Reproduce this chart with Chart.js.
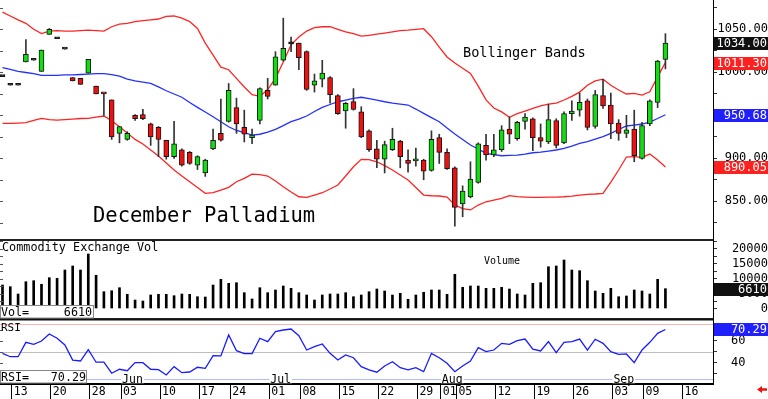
<!DOCTYPE html>
<html>
<head>
<meta charset="utf-8">
<script src="https://cdn.jsdelivr.net/npm/chart.js@4.4.1/dist/chart.umd.min.js"></script>
<style>
    html, body { margin: 0; padding: 0; background: #fff; overflow: hidden; }
    #wrap { position: relative; width: 768px; height: 399px; }
    canvas { position: absolute; left: 0; }
</style>
</head>
<body>
<div id="wrap">
    <canvas id="priceChart" width="768" height="239" style="top:0;width:768px;height:239px"></canvas>
    <canvas id="volChart" width="768" height="80" style="top:239px;width:768px;height:80px"></canvas>
    <canvas id="rsiChart" width="768" height="80" style="top:319px;width:768px;height:80px"></canvas>
</div>
<script>
// ===== data (one entry per trading day, 10 May .. 12 Sep) =====
const opens  = [995,985,985,1012,1014,1001,1044,1039,1027,994,993,999,984,976,968,929,922,950,951,940,936,921,902,910,907,892,883,911,929,943,959,936,924,944,979,985,1014,1033,1034,1024,985,992,994,973,955,966,954,932,911,899,910,920,898,897,898,886,924,907,889,847,855,872,915,904,910,934,923,943,946,924,919,944,918,952,956,967,937,973,962,941,929,934,900,940,965,1015];
const highs  = [995,985,985,1038,1014,1026,1051,1039,1027,994,993,1015,984,976,968,937,931,951,957,941,937,921,943,911,908,903,899,934,969,987,970,956,934,982,993,1024,1063,1041,1034,1025,998,1014,995,974,965,981,960,933,921,920,935,921,910,912,899,932,928,911,890,868,896,918,928,928,938,948,943,952,947,940,963,946,954,967,976,969,979,992,976,945,950,956,942,968,1014,1045];
const lows   = [995,985,985,1012,1014,1001,1044,1039,1027,990,986,999,975,950,922,918,921,944,945,915,902,899,900,891,893,887,879,910,920,942,929,919,917,940,969,985,1013,1024,1003,979,977,983,964,951,935,956,924,908,889,883,909,889,884,891,875,885,894,887,821,832,854,871,898,902,908,917,921,934,909,913,917,912,917,944,949,933,935,958,923,921,924,896,899,938,959,1004];
const closes = [995,985,985,1021,1014,1026,1050,1039,1027,990,986,1015,975,975,925,937,929,946,946,925,922,902,917,892,894,902,898,921,921,979,940,928,927,981,972,1018,1028,1033,1017,980,990,999,974,952,964,957,925,910,899,916,922,902,894,898,885,922,907,888,843,862,876,917,904,910,933,928,942,948,924,920,945,915,952,955,965,936,974,961,940,929,933,903,938,967,1013,1034];

const upperBand = [1070,1065.5,1061,1057,1050,1045,1048,1048.5,1048,1048,1048.5,1049,1048.5,1048,1053,1056,1057,1059,1060,1061,1062,1065,1065.5,1063,1059,1051,1034,1020,1006,1003,993,983,974,972,980,993,1012,1032,1041,1048,1052,1053,1053,1050,1047,1045,1042,1043,1044.5,1045.7,1047,1048.4,1049,1050,1050.7,1041.4,1029.4,1017.8,1010.8,1004.7,998.8,984,968,958.5,954,947.7,952,955,958,961,963,964.3,967.8,972,977,985,990,992,985,979.4,974.8,975.6,973.6,977.4,995,1011.3];
const midBand   = [1005.6,1003.3,1001,999.8,998.6,996.5,996.5,996.5,997,997,997.5,998,998.6,998.6,997.4,995.7,992.2,990,988.7,987.2,983,978.6,974.8,971,965,959.3,953.8,948.4,942.6,936.7,932.4,929.8,927,928,930.6,933.7,938,942.6,945.7,949.2,954.4,959.3,962.6,965.8,967.8,969.8,971,969.5,967.8,965.8,964.3,963.1,962,957.3,952.3,947.4,942.6,935.2,928.3,921.9,915.5,910.8,905.8,904.4,903,903.5,903.8,905,906.5,907.3,908.5,909.7,911.6,914.3,917.4,919.5,922.4,925.3,929,933.5,937.6,938.7,939.9,942.2,946.3,950.68];
const lowerBand = [940.7,940.7,941,941.4,944,946.5,945,944.5,945,945.7,946.3,946.5,948,949.2,943.7,936.7,929.4,922,916.6,909.7,902.7,894.5,886.4,879.4,872.8,866,859.3,860,863,866.3,872.8,876.7,881.7,881,879.4,873.6,867,860.8,855.3,854.7,857.3,860,864.3,869,879.4,890.2,898.8,898.5,896,891.5,886.4,880.6,874.8,866,857.3,856.5,856.2,855,845.7,841.6,840,845.7,849.5,851.5,853.5,856.7,855.5,855,854.7,854.7,855,855,855.3,856,857.3,858,858.5,859.3,872.4,886.4,901.5,901.9,901.2,905,898,890.05];

const volumes = [7830,7270,4830,8930,9270,8070,10270,10070,12830,14170,12830,18170,11070,5600,5930,6930,4730,2830,2500,4500,4730,4730,4270,4830,4730,3930,3830,7830,9730,8400,8600,5270,3170,6930,5270,6170,7500,6730,5270,4500,2830,4500,4830,4830,5270,3930,4500,5600,6500,5830,4500,5070,3070,4500,5400,6170,6170,4730,11400,7070,7500,7500,6730,6730,7070,6500,4830,4500,8400,8600,13930,14170,16170,12830,12600,9270,5830,5070,6730,3930,4170,6170,5830,4830,9730,6610];

const rsi = [48.6,45.5,45.5,58.6,56.8,59.8,66.2,62.3,56.2,42.5,41.6,51.9,40.5,40.5,30.5,34.1,32.8,40.1,40.1,34.1,33.7,28.9,36.5,31,31.6,35.9,35,46.5,46.2,65.3,51,48.3,48.3,62.3,59.2,68.3,69.8,70.7,64.6,51.6,54.6,57.1,48.6,42.5,47.1,44.6,36.5,33.5,31.4,37.1,41,35.5,33.5,35.5,31.9,48.6,44.6,39.5,31.9,37.1,41.6,53.7,50.1,51.6,57.7,56.8,60.1,61.6,52.3,50.7,59.2,49.2,58.6,59.2,61.6,51.6,61.4,57.7,50.1,47.7,48,40.1,51.6,58.6,66.8,70.29];

// x axis: day index of each labelled tick
const tickIdx    = [1,6,11,15,20,25,29,34,38,43,48,53,56,58,63,68,73,78,82,87];
const tickLabels = ['13','20','28','03','10','17','24','01','08','15','22','29','01','05','12','19','26','03','09','16'];
const monthIdx    = [15,34,56,78];
const monthLabels = ['Jun','Jul','Aug','Sep'];

const priceTicks = [825,850,875,900,925,950,975,1000,1025,1050,1075];
const volTicks   = [0,2500,5000,7500,10000,12500,15000,17500,20000,22500];
const rsiTicks   = [30,40,50,60,70];
const rsiLevels  = [75,50,25];

// ===== helpers =====
const MONO = '"DejaVu Sans Mono", monospace';
const X_MIN = -0.32, X_MAX = 91.1;
const last = closes.length - 1;

function xAxisHidden() {
    return { type: 'linear', min: X_MIN, max: X_MAX, offset: false, display: false };
}

function rightAxis(ticks, labelFn, opts) {
    return {
        position: 'right',
        min: opts.min,
        max: opts.max,
        afterBuildTicks: s => { s.ticks = ticks.map(v => ({ value: v })); },
        afterFit: s => { s.width = 55; s.paddingTop = 0; s.paddingBottom = 0; },
        ticks: {
            callback: labelFn,
            color: '#000',
            font: { family: 'DejaVu Sans Mono', size: 12 },
            crossAlign: opts.crossAlign,
            padding: opts.padding,
            autoSkip: false
        },
        grid: { drawOnChartArea: false, tickLength: 4, color: '#333' },
        border: { display: true, color: '#000', width: 1 }
    };
}

function drawTag(ctx, y, text, bg) {
    const yy = Math.round(y);
    ctx.fillStyle = bg;
    ctx.fillRect(714, yy - 6, 54, 13);
    ctx.fillStyle = '#fff';
    ctx.font = '12px ' + MONO;
    ctx.textAlign = 'right';
    ctx.textBaseline = 'middle';
    ctx.fillText(text, 767, yy + 1);
}

function leftTicks(chart) {
    const { ctx, scales: { y } } = chart;
    ctx.fillStyle = '#555';
    y.ticks.forEach(t => {
        const py = Math.round(y.getPixelForValue(t.value));
        ctx.fillRect(0, py, 3, 1);
    });
}

function textAt(ctx, str, x, y, size, align) {
    ctx.fillStyle = '#000';
    ctx.font = size + 'px ' + MONO;
    ctx.textAlign = align || 'left';
    ctx.textBaseline = 'alphabetic';
    ctx.fillText(str, x, y);
}

const common = {
    responsive: false,
    animation: false,
    devicePixelRatio: 1,
    events: [],
    layout: { padding: 0 },
    plugins: { legend: { display: false }, tooltip: { enabled: false } }
};

// ===== price panel =====
const bodyColors = opens.map((o, i) =>
    closes[i] > o ? '#11dd11' : (closes[i] < o ? '#ee1111' : '#111'));

new Chart(document.getElementById('priceChart'), {
    type: 'bar',
    data: {
        datasets: [
            {
                type: 'line', label: 'Upper',
                data: upperBand.map((v, i) => ({ x: i, y: v })),
                borderColor: '#ff2424', borderWidth: 1.3, pointRadius: 0, order: 3
            },
            {
                type: 'line', label: 'Middle',
                data: midBand.map((v, i) => ({ x: i, y: v })),
                borderColor: '#2430ff', borderWidth: 1.3, pointRadius: 0, order: 3
            },
            {
                type: 'line', label: 'Lower',
                data: lowerBand.map((v, i) => ({ x: i, y: v })),
                borderColor: '#ff2424', borderWidth: 1.3, pointRadius: 0, order: 3
            },
            {
                label: 'Wick',
                data: lows.map((l, i) => ({ x: i, y: [l, highs[i]] })),
                backgroundColor: '#333',
                barThickness: 1, grouped: false, order: 2
            },
            {
                label: 'Body',
                data: opens.map((o, i) => ({ x: i, y: [o, closes[i]] })),
                backgroundColor: bodyColors,
                borderColor: '#151515', borderWidth: 1, borderSkipped: false,
                barThickness: 5, minBarLength: 2, grouped: false, order: 1
            }
        ]
    },
    options: {
        ...common,
        scales: {
            x: xAxisHidden(),
            y: rightAxis(priceTicks, v => (v % 50 === 0 ? v.toFixed(2) : ''),
                { min: 806.2, max: 1084.1, crossAlign: 'far', padding: -1 })
        }
    },
    plugins: [{
        id: 'priceDecor',
        afterDraw(chart) {
            const { ctx, scales: { y } } = chart;
            ctx.save();
            leftTicks(chart);
            textAt(ctx, 'December Palladium', 93, 222, 20.5);
            textAt(ctx, 'Bollinger Bands', 463, 56.5, 13.6);
            drawTag(ctx, y.getPixelForValue(closes[last]), closes[last].toFixed(2), '#111');
            drawTag(ctx, y.getPixelForValue(upperBand[last]), upperBand[last].toFixed(2), '#ff2020');
            drawTag(ctx, y.getPixelForValue(midBand[last]), midBand[last].toFixed(2), '#2020ff');
            drawTag(ctx, y.getPixelForValue(lowerBand[last]), lowerBand[last].toFixed(2), '#ff2020');
            ctx.restore();
        }
    }]
});

// ===== volume panel =====
new Chart(document.getElementById('volChart'), {
    type: 'bar',
    data: {
        datasets: [{
            label: 'Volume',
            data: volumes.map((v, i) => ({ x: i, y: v })),
            backgroundColor: '#000',
            barThickness: 2
        }]
    },
    options: {
        ...common,
        scales: {
            x: xAxisHidden(),
            y: rightAxis(volTicks, v => (v % 5000 === 0 ? String(v) : ''),
                { min: -3500, max: 23167, crossAlign: 'far', padding: 13 })
        }
    },
    plugins: [{
        id: 'volDecor',
        afterDraw(chart) {
            const { ctx, scales: { y } } = chart;
            ctx.save();
            leftTicks(chart);
            ctx.fillStyle = '#222';
            ctx.fillRect(0, 0, 713, 2);
            ctx.fillRect(0, 79, 713, 1);
            textAt(ctx, 'Commodity Exchange Vol', 2, 12, 11.8);
            textAt(ctx, 'Volume', 484, 25.3, 10);
            // value box
            ctx.fillStyle = '#fff';
            ctx.fillRect(0, 66, 94, 13);
            ctx.strokeStyle = '#888';
            ctx.lineWidth = 1;
            ctx.strokeRect(0.5, 66.5, 93, 12.5);
            textAt(ctx, 'Vol=', 1, 76.5, 11.7);
            textAt(ctx, String(volumes[last]), 92, 76.5, 11.7, 'right');
            drawTag(ctx, y.getPixelForValue(volumes[last]), String(volumes[last]), '#111');
            ctx.restore();
        }
    }]
});

// ===== RSI panel + date axis =====
new Chart(document.getElementById('rsiChart'), {
    type: 'line',
    data: {
        datasets: [{
            label: 'RSI',
            data: rsi.map((v, i) => ({ x: i, y: v })),
            borderColor: '#1a1aff', borderWidth: 1.3, pointRadius: 0
        }]
    },
    options: {
        ...common,
        scales: {
            x: {
                type: 'linear', min: X_MIN, max: X_MAX, offset: false, position: 'bottom',
                afterBuildTicks: s => { s.ticks = tickIdx.map(v => ({ value: v + 0.2 })); },
                afterFit: s => { s.height = 15; s.paddingLeft = 0; s.paddingRight = 0; },
                ticks: {
                    callback: (v, i) => tickLabels[i],
                    autoSkip: false, maxRotation: 0,
                    align: 'start', labelOffset: 2, padding: -14,
                    color: '#000',
                    font: { family: 'DejaVu Sans Mono', size: 11.5 }
                },
                grid: { drawOnChartArea: false, tickLength: 15, color: '#000' },
                border: { display: true, color: '#000', width: 2 }
            },
            y: rightAxis(rsiTicks, v => (v === 40 || v === 60 ? String(v) : ''),
                { min: 20.7, max: 79.8, crossAlign: 'near', padding: 14 })
        }
    },
    plugins: [{
        id: 'rsiDecor',
        beforeDatasetsDraw(chart) {
            const { ctx, chartArea, scales: { y } } = chart;
            const cols = ['#ffb4b4', '#bdbdbd', '#b4bcff'];
            ctx.save();
            rsiLevels.forEach((lv, k) => {
                const py = Math.round(y.getPixelForValue(lv)) + 0.5;
                ctx.strokeStyle = cols[k];
                ctx.lineWidth = 1;
                ctx.beginPath();
                ctx.moveTo(chartArea.left, py);
                ctx.lineTo(chartArea.right, py);
                ctx.stroke();
            });
            ctx.restore();
        },
        afterDraw(chart) {
            const { ctx, scales: { x, y } } = chart;
            ctx.save();
            leftTicks(chart);
            ctx.fillStyle = '#111';
            ctx.fillRect(0, 0, 713, 1.5);
            textAt(ctx, 'RSI', 1, 11.7, 11);
            // month names on the lower line
            const my = y.getPixelForValue(rsiLevels[2]);
            ctx.font = '11.5px ' + MONO;
            monthIdx.forEach((mi, k) => {
                const px = x.getPixelForValue(mi + 0.2);
                const w = ctx.measureText(monthLabels[k]).width;
                ctx.fillStyle = '#fff';
                ctx.fillRect(px, my - 5, w + 2, 9);
                ctx.fillStyle = '#000';
                ctx.textAlign = 'left';
                ctx.textBaseline = 'middle';
                ctx.fillText(monthLabels[k], px + 1, my + 0.5);
            });
            // value box
            ctx.fillStyle = '#fff';
            ctx.fillRect(0, 51, 87, 13);
            ctx.strokeStyle = '#888';
            ctx.lineWidth = 1;
            ctx.strokeRect(0.5, 51.5, 86, 12.5);
            textAt(ctx, 'RSI=', 1, 62, 11.7);
            textAt(ctx, rsi[last].toFixed(2), 86, 62, 11.7, 'right');
            drawTag(ctx, y.getPixelForValue(rsi[last]), rsi[last].toFixed(2), '#2020ff');
            // little red arrow, bottom right
            ctx.fillStyle = '#ee1111';
            ctx.beginPath();
            ctx.moveTo(757, 70.5);
            ctx.lineTo(762, 67);
            ctx.lineTo(762, 69.3);
            ctx.lineTo(767, 69.3);
            ctx.lineTo(767, 71.7);
            ctx.lineTo(762, 71.7);
            ctx.lineTo(762, 74);
            ctx.closePath();
            ctx.fill();
            ctx.restore();
        }
    }]
});
</script>
</body>
</html>
